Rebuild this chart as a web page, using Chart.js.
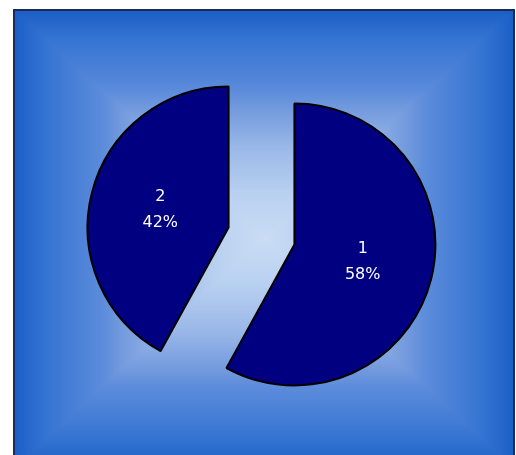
<!DOCTYPE html>
<html>
<head>
<meta charset="utf-8">
<script src="https://cdn.jsdelivr.net/npm/chart.js@4"></script>
<style>
    html, body { margin: 0; padding: 0; background: #ffffff; }
    #wrap { position: relative; width: 516px; height: 455px; }
</style>
</head>
<body>
<div id="wrap"><canvas id="pieChart" width="516" height="455"></canvas></div>
<script>
const categories = ['1', '2'];
const values = [58, 42];
const sliceColors = ['#000080', '#000080'];
const EXPLODE = 34; // px each slice is pulled out of the pie

// frame with a rectangular "from center" gradient, like the office fill
const backgroundFill = {
    id: 'backgroundFill',
    beforeDraw(chart) {
        const ctx = chart.ctx;
        const L = 14, T = 10, R = 514, B = 468;
        const cx = (L + R) / 2, cy = (T + B) / 2;
        const stops = [
            [0, '#1a5ec6'], [0.13, '#3574d2'], [0.35, '#5b8bdb'], [0.42, '#7098dd'],
            [0.6, '#9ab8e8'], [0.8, '#b8d0f0'], [1, '#cadcf4']
        ];
        ctx.save();
        ctx.fillStyle = '#ffffff';
        ctx.fillRect(0, 0, chart.width, chart.height);

        // top and bottom halves first, over the whole frame
        const gv = ctx.createLinearGradient(0, T, 0, B);
        stops.forEach(s => gv.addColorStop(s[0] / 2, s[1]));
        stops.slice().reverse().forEach(s => gv.addColorStop(1 - s[0] / 2, s[1]));
        ctx.fillStyle = gv;
        ctx.fillRect(L, T, R - L, B - T);

        // left and right wedges on top
        const gh = ctx.createLinearGradient(L, 0, R, 0);
        stops.forEach(s => gh.addColorStop(s[0] / 2, s[1]));
        stops.slice().reverse().forEach(s => gh.addColorStop(1 - s[0] / 2, s[1]));
        ctx.fillStyle = gh;
        ctx.beginPath();
        ctx.moveTo(L, T); ctx.lineTo(cx, cy); ctx.lineTo(L, B); ctx.closePath();
        ctx.moveTo(R, T); ctx.lineTo(cx, cy); ctx.lineTo(R, B); ctx.closePath();
        ctx.fill();

        ctx.strokeStyle = '#1c2a58';
        ctx.lineWidth = 2;
        ctx.strokeRect(L, T, R - L, B - T);
        ctx.restore();
    }
};

// draw each arc shifted outwards along its middle angle (exploded pie)
const explodeSlices = {
    id: 'explodeSlices',
    beforeDatasetDraw(chart, args) {
        const ctx = chart.ctx;
        args.meta.data.forEach(arc => {
            const mid = (arc.startAngle + arc.endAngle) / 2;
            ctx.save();
            ctx.translate(Math.cos(mid) * EXPLODE, Math.sin(mid) * EXPLODE);
            arc.draw(ctx);
            ctx.restore();
        });
        return false;
    }
};

// "1 / 58%" labels inside the slices
const sliceLabels = {
    id: 'sliceLabels',
    afterDatasetsDraw(chart) {
        const ctx = chart.ctx;
        const meta = chart.getDatasetMeta(0);
        const total = values.reduce((a, b) => a + b, 0);
        ctx.save();
        ctx.fillStyle = '#ffffff';
        ctx.font = '16px "DejaVu Sans", sans-serif';
        ctx.textAlign = 'center';
        ctx.textBaseline = 'middle';
        meta.data.forEach((arc, i) => {
            const mid = (arc.startAngle + arc.endAngle) / 2;
            const d = EXPLODE + arc.outerRadius * 0.5;
            const x = arc.x + Math.cos(mid) * d;
            const y = arc.y + Math.sin(mid) * d;
            const pct = Math.round(values[i] / total * 100) + '%';
            ctx.fillText(categories[i], x, y - 13);
            ctx.fillText(pct, x, y + 13);
        });
        ctx.restore();
    }
};

document.addEventListener('DOMContentLoaded', () => {
    const ctx = document.getElementById('pieChart').getContext('2d');
    window.pie = new Chart(ctx, {
        type: 'pie',
        data: {
            labels: categories,
            datasets: [{
                data: values,
                backgroundColor: sliceColors,
                borderColor: '#000000',
                borderWidth: 2
            }]
        },
        options: {
            responsive: false,
            animation: false,
            radius: 141,
            layout: { padding: { left: 7, right: 0, top: 17, bottom: 0 } },
            plugins: { legend: { display: false }, tooltip: { enabled: false } }
        },
        plugins: [backgroundFill, explodeSlices, sliceLabels]
    });
});
</script>
</body>
</html>
